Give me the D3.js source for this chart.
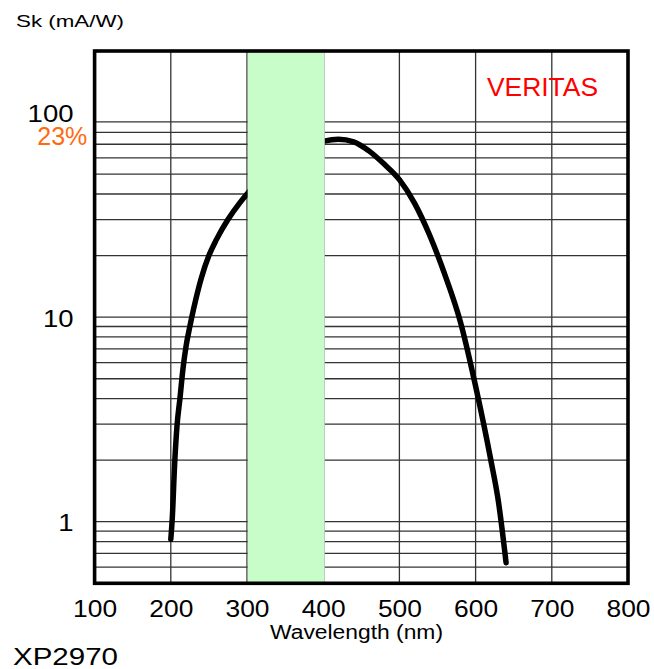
<!DOCTYPE html>
<html>
<head>
<meta charset="utf-8">
<script src="https://cdn.jsdelivr.net/npm/d3@7"></script>
<style>
  html, body { margin: 0; padding: 0; background: #fff; }
  svg { display: block; font-family: "Liberation Sans", Arial, Helvetica, sans-serif; }
</style>
</head>
<body>
<svg id="chart" width="654" height="669"></svg>
<script>
// Spectral sensitivity of the XP2970 photocathode (nm, mA/W)
const wavelength = [200, 202, 205, 208, 212, 216, 220, 225, 230, 240, 250, 260, 275, 290, 300,
                    401, 420, 440, 460, 480, 500, 520, 540, 560, 580, 600, 620, 630, 640];
const sensitivity = [0.82, 1.05, 1.9, 2.9, 4.0, 5.6, 7.2, 9.0, 11, 15.5, 20, 24, 30, 36, 40,
                     72.5, 74, 72, 65, 56, 47, 36, 25, 16, 9.5, 4.6, 2.0, 1.25, 0.63];

// Axis ticks and grid
const wavelengthTicks = [100, 200, 300, 400, 500, 600, 700, 800];
const wavelengthGrid = [200, 300, 400, 500, 600, 700];
const skTicks = [100, 10, 1];
const skGrid = [90, 80, 70, 60, 50, 40, 30, 20, 10, 9, 8, 7, 6, 5, 4, 3, 2, 1, 0.9, 0.8, 0.7, 0.6];

// Highlighted band (nm)
const bandRange = [300, 400];

const svg = d3.select("#chart");
const plotLeft = 94.6, plotRight = 628, plotTop = 51, plotBottom = 583.3;

const x = d3.scaleLinear().domain([100, 800]).range([plotLeft, plotRight]);
const y = d3.scaleLog().domain([0.5, 200]).range([plotBottom, plotTop]);

// Grid lines
const grid = svg.append("g").attr("stroke", "#333").attr("stroke-width", 1.3);
grid.selectAll("line.v").data(wavelengthGrid).join("line")
  .attr("class", "v")
  .attr("x1", d => x(d)).attr("x2", d => x(d))
  .attr("y1", plotTop).attr("y2", plotBottom);
grid.selectAll("line.h").data(skGrid).join("line")
  .attr("class", "h")
  .attr("x1", plotLeft).attr("x2", plotRight)
  .attr("y1", d => y(d)).attr("y2", d => y(d));

// Sensitivity curve
const points = wavelength.map((w, i) => [w, sensitivity[i]]);
const line = d3.line()
  .x(d => x(d[0]))
  .y(d => y(d[1]))
  .curve(d3.curveMonotoneX);
svg.append("path")
  .datum(points)
  .attr("d", line)
  .attr("fill", "none")
  .attr("stroke", "#000")
  .attr("stroke-width", 5.5)
  .attr("stroke-linecap", "round")
  .attr("stroke-linejoin", "round");

// Band over the curve
svg.append("rect")
  .attr("x", x(bandRange[0]) + 0.7)
  .attr("y", plotTop)
  .attr("width", x(bandRange[1]) - x(bandRange[0]) + 0.6)
  .attr("height", plotBottom - plotTop)
  .attr("fill", "#c8fcc8");
svg.append("line")
  .attr("x1", x(bandRange[1]) + 1.3).attr("x2", x(bandRange[1]) + 1.3)
  .attr("y1", plotTop).attr("y2", plotBottom)
  .attr("stroke", "#bbb").attr("stroke-width", 0.8);

// Frame
svg.append("rect")
  .attr("x", plotLeft).attr("y", plotTop)
  .attr("width", plotRight - plotLeft).attr("height", plotBottom - plotTop)
  .attr("fill", "none")
  .attr("stroke", "#000")
  .attr("stroke-width", 3.6);

// X axis labels
const xAxis = d3.axisBottom(x).tickValues(wavelengthTicks).tickSize(0).tickPadding(0).tickFormat(d3.format("d"));
const gx = svg.append("g").attr("transform", `translate(0,${plotBottom})`).call(xAxis);
gx.select(".domain").remove();
gx.selectAll("text")
  .attr("dy", null).attr("y", 34)
  .attr("fill", "#000")
  .attr("font-size", 24)
  .attr("font-family", '"Liberation Sans", Arial, sans-serif')
  .attr("textLength", 44).attr("lengthAdjust", "spacingAndGlyphs");

// Y axis labels
const yAxis = d3.axisLeft(y).tickValues(skTicks).tickSize(0).tickPadding(0).tickFormat(d3.format("d"));
const gy = svg.append("g").attr("transform", "translate(73.5,0)").call(yAxis);
gy.select(".domain").remove();
gy.selectAll("text")
  .attr("dy", null).attr("x", 0).attr("y", 9)
  .attr("fill", "#000")
  .attr("font-size", 24)
  .attr("font-family", '"Liberation Sans", Arial, sans-serif')
  .attr("textLength", d => String(d).length * 15.3)
  .attr("lengthAdjust", "spacingAndGlyphs");

// Titles and annotations
svg.append("text")
  .attr("x", 16).attr("y", 27)
  .attr("font-size", 16.5)
  .attr("textLength", 108).attr("lengthAdjust", "spacingAndGlyphs")
  .text("Sk (mA/W)");

svg.append("text")
  .attr("x", 37.3).attr("y", 144.5)
  .attr("font-size", 25)
  .attr("fill", "#ff6a10")
  .text("23%");

svg.append("text")
  .attr("x", 487).attr("y", 95.7)
  .attr("font-size", 26)
  .attr("fill", "#ff0000")
  .attr("textLength", 111).attr("lengthAdjust", "spacingAndGlyphs")
  .text("VERITAS");

svg.append("text")
  .attr("x", 270).attr("y", 639)
  .attr("font-size", 20)
  .attr("textLength", 173).attr("lengthAdjust", "spacingAndGlyphs")
  .text("Wavelength (nm)");

svg.append("text")
  .attr("x", 13).attr("y", 665)
  .attr("font-size", 24)
  .attr("textLength", 105).attr("lengthAdjust", "spacingAndGlyphs")
  .text("XP2970");
</script>
</body>
</html>
